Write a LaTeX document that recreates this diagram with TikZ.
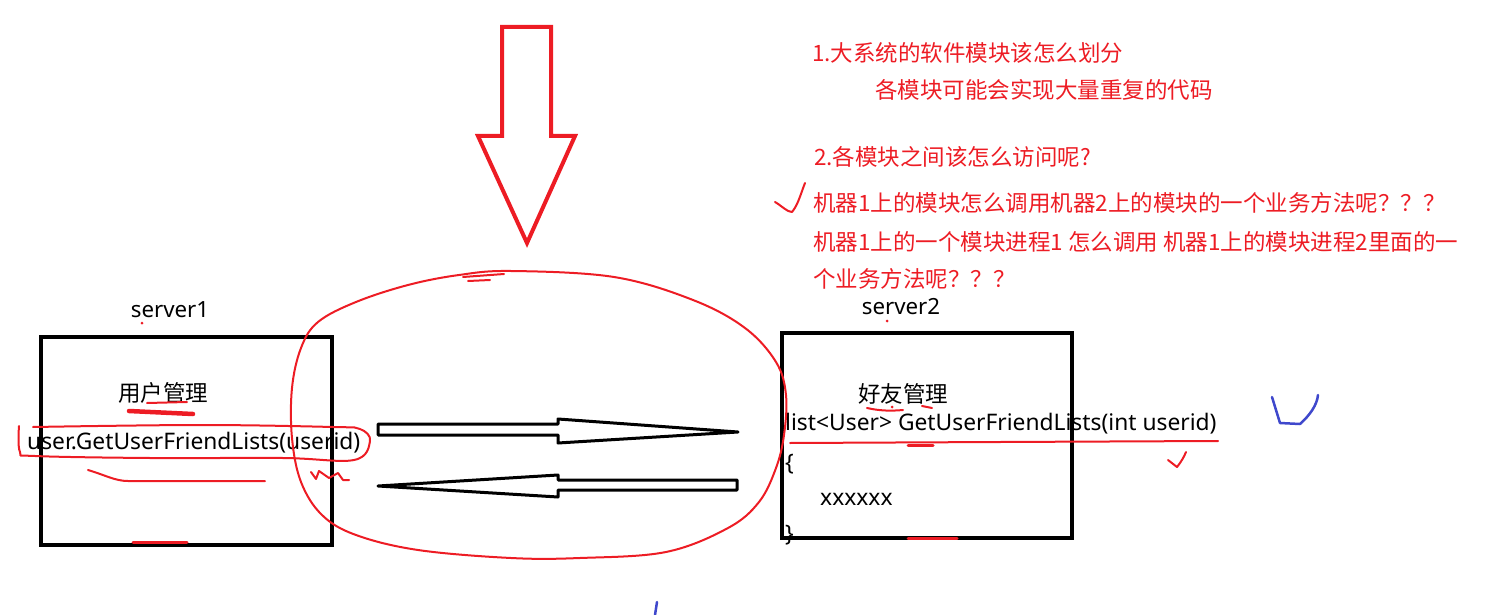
\documentclass[tikz,border=0pt]{standalone}
\usepackage{fontspec}
\setmainfont{Noto Sans}
\newfontfamily\cjk{Noto Sans CJK SC}
\definecolor{pen}{HTML}{ED1C24}
\definecolor{bluepen}{HTML}{3F48CC}
\tikzset{
  redtxt/.style={anchor=west, inner sep=0pt, text=pen, font=\cjk\fontsize{22.5}{27}\selectfont},
  cjktxt/.style={anchor=west, inner sep=0pt, font=\cjk\fontsize{22.5}{27}\selectfont},
  blktxt/.style={anchor=west, inner sep=0pt, font=\fontsize{22.8}{27}\selectfont},
  srvlabel/.style={inner sep=0pt, font=\fontsize{22.3}{27}\selectfont},
  serverbox/.style={draw, line width=4pt, inner sep=0pt},
  redpen/.style={draw=pen, line width=2pt, line cap=round, line join=round},
  thickpen/.style={draw=pen, line width=4.5pt, line cap=round, line join=round},
  bluepenstyle/.style={draw=bluepen, line width=2.5pt, line cap=round, line join=round},
  bigarrow/.style={draw=pen, line width=4pt, line join=miter},
  flatarrow/.style={draw=black, fill=white, line width=3pt, line join=round},
}
\begin{document}
\begin{tikzpicture}[x=1pt,y=-1pt]
\useasboundingbox (0,0) rectangle (1494,615);

% big red down arrow
\draw[bigarrow] (502,27) -- (551,27) -- (551,136) -- (575,136) -- (527,243) -- (478,136) -- (502,136) -- cycle;

% servers
\node[serverbox, minimum width=291pt, minimum height=208pt] (box1) at (186.5,441) {};
\node[serverbox, minimum width=290pt, minimum height=205pt] (box2) at (927,435.5) {};

\node[srvlabel] (s1) at (170,310) {server1};
\node[srvlabel] (s2) at (901,307) {server2};

\node[cjktxt] (um) at (118,393) {用户管理};
\node[blktxt] (call) at (27,443) {user.GetUserFriendLists(userid)};

\node[cjktxt] (fm) at (858,394) {好友管理};
\node[blktxt] (sig) at (785,424) {list<User> GetUserFriendLists(int userid)};
\node[blktxt] (lb) at (785,464) {\{};
\node[blktxt] (xx) at (820,499) {xxxxxx};
\node[blktxt] (rb) at (785,535) {\}};

% black flat arrows
\draw[flatarrow] (378,424) -- (558,424) -- (558,419) -- (738,432) -- (558,443) -- (558,435) -- (378,435) -- cycle;
\draw[flatarrow] (737,480) -- (558,480) -- (558,475) -- (378,486) -- (558,497) -- (558,490) -- (737,490) -- cycle;

% red texts
\node[redtxt] (t1) at (812,53) {1.大系统的软件模块该怎么划分};
\node[redtxt] (t2) at (875,90) {各模块可能会实现大量重复的代码};
\node[redtxt] (t3) at (814,157) {2.各模块之间该怎么访问呢?};
\node[redtxt] (t4) at (813,203) {机器1上的模块怎么调用机器2上的模块的一个业务方法呢？？？};
\node[redtxt] (t5) at (813,242) {机器1上的一个模块进程1 怎么调用 机器1上的模块进程2里面的一};
\node[redtxt] (t6) at (813,279) {个业务方法呢？？？};

% red check marks
\draw[redpen] (775,202) .. controls (782,206) and (787,212) .. (792,212) .. controls (798,205) and (801,193) .. (805,183);
\draw[redpen] (1168,460) -- (1177,467) .. controls (1181,462) and (1184,457) .. (1186,452);

% red hand-drawn loop around arrows
\draw[redpen] plot[smooth cycle, tension=0.6] coordinates {
  (511,271) (614,277) (693,300) (745,328) (776,362) (786,395) (784,435)
  (776,468) (759,502) (728,528) (666,552) (580,558) (511,558) (418,550)
  (356,535) (322,515) (301,482) (292,438) (292,388) (301,348) (318,322)
  (356,302) (408,285) (459,275)};
\draw[redpen] (463,277) -- (504,274) (468,281) -- (490,280);
\draw[redpen] (311,472) -- (316,479) -- (319,471) -- (329,478) -- (338,473) -- (343,480) -- (349,480);

% loop round the call
\draw[redpen] plot[smooth, tension=0.6] coordinates {
  (19,426) (20,452) (35,456) (150,458) (283,458) (354,460) (370,441) (360,429) (333,427) (200,425) (33,427)};

% red underlines left
\draw[thickpen] (129,411) -- (193,414);
\draw[redpen] (147,403) -- (187,402);
\draw[redpen] (88,470) .. controls (105,475) and (115,481) .. (128,481) -- (265,481);
\draw[thickpen, line width=3pt] (133,542) -- (187,542);
\fill[pen] (142,323) circle (1.5pt);

% red underlines right
\draw[redpen] (867,408) .. controls (880,411) and (892,411) .. (903,410);
\draw[redpen] (922,406) -- (932,408);
\fill[pen] (892,407) circle (1.5pt);
\draw[redpen] (790,443) -- (1000,442) -- (1218,441);
\draw[thickpen, line width=3pt] (908,445) -- (933,445);
\draw[thickpen, line width=3pt] (908,538) -- (957,538);
\fill[pen] (887,321) circle (1.5pt);

% blue marks
\draw[bluepenstyle] (1272,397) -- (1280,423) -- (1300,424) .. controls (1310,415) and (1317,405) .. (1318,395);
\draw[bluepenstyle] (657,602) -- (655,615);
\end{tikzpicture}
\end{document}
